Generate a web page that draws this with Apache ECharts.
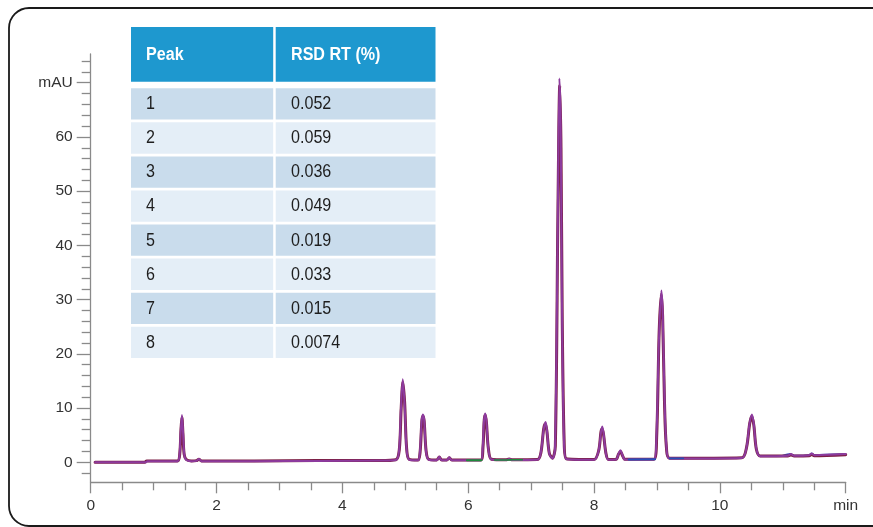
<!DOCTYPE html>
<html>
<head>
<meta charset="utf-8">
<script src="https://cdn.jsdelivr.net/npm/echarts@6/dist/echarts.min.js"></script>
<style>
html,body{margin:0;padding:0;background:#fff;}
#chart{width:873px;height:527px;}
</style>
</head>
<body>
<div id="chart"></div>
<script>
// ---- Data ----
// Table
const tableHeader = ['Peak', 'RSD RT (%)'];
const peakNums = ['1', '2', '3', '4', '5', '6', '7', '8'];
const rsdValues = ['0.052', '0.059', '0.036', '0.049', '0.019', '0.033', '0.015', '0.0074'];

// Axis ticks / labels
const yMajorTicks = [0, 10, 20, 30, 40, 50, 60, 70];
const yMinorTicks = [-2, 2, 4, 6, 8, 12, 14, 16, 18, 22, 24, 26, 28, 32, 34, 36, 38, 42, 44, 46, 48, 52, 54, 56, 58, 62, 64, 66, 68, 72, 74];
const xMajorTicks = [0, 2, 4, 6, 8, 10, 12];
const xMinorTicks = [0.5, 1, 1.5, 2.5, 3, 3.5, 4.5, 5, 5.5, 6.5, 7, 7.5, 8.5, 9, 9.5, 10.5, 11, 11.5];
const yUnitLabel = 'mAU';
const xUnitLabel = 'min';

// Chromatogram traces: [time (min), absorbance (mAU)]
const runPurple = [
  [0.07,0.0],[0.88,0.0],[0.9,0.2],[1.38,0.2],[1.41,1.2],[1.43,5.5],[1.45,8.7],[1.47,5.0],[1.49,1.2],[1.52,0.4],
  [1.6,0.2],[1.68,0.25],[1.72,0.6],[1.76,0.2],[2.6,0.2],[3.6,0.25],[4.6,0.3],[4.85,0.4],[4.9,2.0],[4.93,9.5],
  [4.96,15.3],[4.99,10.5],[5.02,2.5],[5.06,0.5],[5.2,0.35],[5.23,1.5],[5.26,7.5],[5.28,8.8],[5.3,7.8],[5.33,2.0],
  [5.37,0.5],[5.5,0.35],[5.54,1.0],[5.58,0.35],[5.66,0.35],[5.7,0.9],[5.74,0.35],[6.2,0.35],[6.23,2.5],[6.25,7.5],
  [6.27,9.0],[6.29,7.5],[6.32,2.5],[6.37,0.5],[6.6,0.4],[6.65,0.6],[6.7,0.4],[7.1,0.45],[7.15,1.5],[7.2,6.0],
  [7.23,7.4],[7.25,6.0],[7.29,1.5],[7.34,0.7],[7.38,2.5],[7.42,40],[7.45,70.8],[7.47,62],[7.49,30],[7.52,5],
  [7.56,0.6],[8.0,0.45],[8.07,2.0],[8.11,5.5],[8.13,6.6],[8.15,5.5],[8.19,1.5],[8.23,0.45],[8.35,0.5],[8.39,1.6],
  [8.42,2.2],[8.45,1.4],[8.49,0.5],[8.95,0.5],[8.99,4],[9.03,22],[9.07,31.7],[9.09,28],[9.12,12],[9.15,3],
  [9.2,0.7],[10.35,0.8],[10.42,2.5],[10.47,7],[10.51,8.8],[10.54,7],[10.58,2.5],[10.64,1.1],[11.08,1.2],[11.13,1.5],
  [11.18,1.2],[11.42,1.3],[11.46,1.6],[11.5,1.3],[12.0,1.5]
];
const runMaroon = [
  [0.07,0.0],[0.86,0.0],[0.89,0.25],[1.38,0.25],[1.415,1.5],[1.435,6.0],[1.45,8.3],[1.465,5.5],[1.485,1.5],[1.52,0.5],
  [1.6,0.25],[1.68,0.3],[1.72,0.55],[1.76,0.25],[2.6,0.25],[3.6,0.3],[4.6,0.3],[4.85,0.45],[4.905,2.3],[4.935,10],
  [4.962,14.8],[4.99,11],[5.02,2.8],[5.06,0.55],[5.2,0.4],[5.235,1.8],[5.265,7.8],[5.282,8.5],[5.3,7.6],[5.33,2.2],
  [5.37,0.55],[5.5,0.4],[5.54,0.95],[5.58,0.4],[5.66,0.4],[5.7,0.85],[5.74,0.4],[6.2,0.4],[6.235,2.8],[6.255,7.8],
  [6.272,8.7],[6.29,7.3],[6.32,2.6],[6.37,0.55],[6.6,0.45],[6.65,0.6],[6.7,0.45],[7.1,0.5],[7.155,1.7],[7.2,6.2],
  [7.225,7.1],[7.25,5.8],[7.29,1.6],[7.34,0.75],[7.385,3],[7.425,45],[7.455,69.5],[7.475,58],[7.495,26],[7.525,4],
  [7.56,0.65],[8.0,0.5],[8.075,2.2],[8.11,5.6],[8.128,6.2],[8.15,5.2],[8.19,1.6],[8.23,0.5],[8.35,0.55],[8.39,1.5],
  [8.42,2.0],[8.45,1.3],[8.49,0.55],[8.95,0.55],[8.995,4.5],[9.035,24],[9.068,31.0],[9.09,27],[9.12,11],[9.15,2.8],
  [9.2,0.75],[10.35,0.85],[10.425,2.8],[10.475,7.2],[10.508,8.5],[10.54,6.8],[10.58,2.4],[10.64,1.15],[11.08,1.15],[11.13,1.35],
  [11.18,1.15],[11.42,1.2],[11.46,1.45],[11.5,1.2],[12.0,1.4]
];
const runGreen1 = [[5.98,0.38],[6.21,0.38]];
const runGreen2 = [[6.42,0.42],[6.62,0.42],[6.7,0.45],[6.86,0.45]];
const runBlue1 = [[8.55,0.5],[8.97,0.55]];
const runBlue2 = [[9.2,0.72],[9.42,0.72]];
const runBlue3 = [[11.0,1.25],[11.12,1.55],[11.17,1.25],[11.42,1.35],[11.46,1.65],[11.5,1.35],[11.96,1.5]];

// ---- Chart ----
const FONT = "'Liberation Sans', Arial, sans-serif";
const AXIS_COLOR = '#8a8a8a';
const LABEL_COLOR = '#333';

const chart = echarts.init(document.getElementById('chart'), null, {renderer: 'canvas'});

function lineSeries(name, data, color, width, z) {
  return {
    name: name, type: 'line', data: data, xAxisIndex: 0, yAxisIndex: 0,
    showSymbol: false, symbol: 'none', smooth: 0.3, z: z,
    lineStyle: {color: color, width: width, join: 'round', cap: 'round'},
    emphasis: {disabled: true}, animation: false
  };
}

// Table graphic built from the arrays above
const tbl = {
  left: 131, col2: 275.7, right: 435.5,
  headTop: 27, headBottom: 81.7,
  rowTop: 88.3, rowPitch: 34.06, rowH: 31.3
};
const TXT_SCALE = 0.92;
function cellText(str, x, y, bold, color) {
  return {type: 'text', x: x, y: y, scaleX: TXT_SCALE, z: 11,
    style: {text: str, fill: color, font: (bold ? 'bold ' : '') + '17.5px ' + FONT, textVerticalAlign: 'middle', verticalAlign: 'middle'}};
}
const graphics = [];
graphics.push({type: 'rect', shape: {x: tbl.left, y: tbl.headTop, width: tbl.col2 - 2.5 - tbl.left, height: tbl.headBottom - tbl.headTop}, style: {fill: '#1e98cf'}, z: 10});
graphics.push({type: 'rect', shape: {x: tbl.col2, y: tbl.headTop, width: tbl.right - tbl.col2, height: tbl.headBottom - tbl.headTop}, style: {fill: '#1e98cf'}, z: 10});
graphics.push(cellText(tableHeader[0], 146, (tbl.headTop + tbl.headBottom) / 2 + 0.5, true, '#fff'));
graphics.push(cellText(tableHeader[1], 291, (tbl.headTop + tbl.headBottom) / 2 + 0.5, true, '#fff'));
peakNums.forEach(function (p, i) {
  const y0 = tbl.rowTop + i * tbl.rowPitch;
  const fill = (i % 2 === 0) ? '#c9dcec' : '#e4eef7';
  graphics.push({type: 'rect', shape: {x: tbl.left, y: y0, width: tbl.col2 - 2.5 - tbl.left, height: tbl.rowH}, style: {fill: fill}, z: 10});
  graphics.push({type: 'rect', shape: {x: tbl.col2, y: y0, width: tbl.right - tbl.col2, height: tbl.rowH}, style: {fill: fill}, z: 10});
  graphics.push(cellText(p, 146, y0 + tbl.rowH / 2 + 0.5, false, '#1e1e1e'));
  graphics.push(cellText(rsdValues[i], 291, y0 + tbl.rowH / 2 + 0.5, false, '#1e1e1e'));
});
// outer rounded frame
graphics.push({type: 'rect', shape: {x: 9, y: 8, width: 900, height: 518, r: 20}, style: {fill: 'none', stroke: '#1a1a1a', lineWidth: 1.8}, z: 0, silent: true});

const yMin = -3.7, yMax = 75.3;

const option = {
  animation: false,
  backgroundColor: '#fff',
  grid: {left: 90.7, right: 27.3, top: 54, bottom: 44.7, containLabel: false},
  xAxis: [
    {
      type: 'value', min: 0, max: 12, position: 'bottom',
      axisLine: {show: true, onZero: false, lineStyle: {color: AXIS_COLOR, width: 1.3}},
      axisTick: {show: true, customValues: xMajorTicks, length: 11, inside: false, lineStyle: {color: AXIS_COLOR, width: 1.3}},
      axisLabel: {show: true, customValues: xMajorTicks, margin: 15, color: LABEL_COLOR, fontSize: 15.5, fontFamily: FONT,
        formatter: function (v) { return v === 12 ? xUnitLabel : String(v); }},
      splitLine: {show: false}
    },
    {
      type: 'value', min: 0, max: 12, position: 'bottom', offset: 0, gridIndex: 0,
      axisLine: {show: false, onZero: false},
      axisTick: {show: true, customValues: xMinorTicks, length: 8, lineStyle: {color: AXIS_COLOR, width: 1.3}},
      axisLabel: {show: false},
      splitLine: {show: false}
    }
  ],
  yAxis: [
    {
      type: 'value', min: yMin, max: yMax, position: 'left',
      axisLine: {show: true, onZero: false, lineStyle: {color: AXIS_COLOR, width: 1.3}},
      axisTick: {show: true, customValues: yMajorTicks, length: 14, lineStyle: {color: AXIS_COLOR, width: 1.3}},
      axisLabel: {show: true, customValues: yMajorTicks, margin: 18, color: LABEL_COLOR, fontSize: 15.5, fontFamily: FONT,
        formatter: function (v) { return v === 70 ? yUnitLabel : String(v); }},
      splitLine: {show: false}
    },
    {
      type: 'value', min: yMin, max: yMax, position: 'left', offset: 0, gridIndex: 0,
      axisLine: {show: false, onZero: false},
      axisTick: {show: true, customValues: yMinorTicks, length: 9, lineStyle: {color: AXIS_COLOR, width: 1.3}},
      axisLabel: {show: false},
      splitLine: {show: false}
    }
  ],
  series: [
    lineSeries('run maroon', runMaroon, '#7c1f45', 3, 2),
    lineSeries('run purple', runPurple, '#8d3b9e', 2, 3),
    lineSeries('run green a', runGreen1, '#1e8a3c', 2, 4),
    lineSeries('run green b', runGreen2, '#1e8a3c', 1.6, 4),
    lineSeries('run blue a', runBlue1, '#2a4fb8', 2, 4),
    lineSeries('run blue b', runBlue2, '#2a4fb8', 1.6, 4),
    lineSeries('run blue c', runBlue3, '#3a4fc0', 1.6, 1)
  ],
  graphic: graphics
};
chart.setOption(option);
</script>
</body>
</html>
